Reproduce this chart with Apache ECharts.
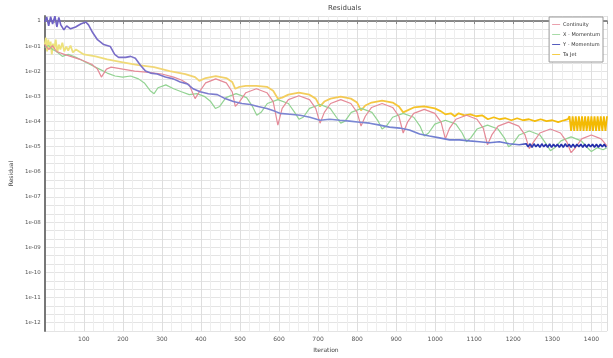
<!DOCTYPE html>
<html>
<head>
<meta charset="utf-8">
<script src="https://cdn.jsdelivr.net/npm/echarts@6/dist/echarts.min.js"></script>
<style>html,body{margin:0;padding:0;background:#fff;}#c{width:613px;height:358px;}</style>
</head>
<body>
<div id="c"></div>
<script>
const seriesNames = ['Continuity', 'X - Momentum', 'Y - Momentum', 'Ta Jet'];
const xTickLabels = [100,200,300,400,500,600,700,800,900,1000,1100,1200,1300,1400];

const continuityIter = [0,10,20,30,50,90,120,135,145,150,158,170,200,230,260,300,330,350,370,
  385,396,412,438,465,480,488,499,515,542,569,585,597,608,624,651,678,694,705,
  716,732,758,784,800,810,821,837,864,891,907,918,929,945,972,999,1015,1026,
  1037,1053,1080,1107,1123,1134,1145,1161,1188,1214,1230,1241,1252,1268,1295,1321,1337,1348,
  1359,1375,1400,1425,1440];
const continuityRes = [0.1155,0.0737,0.1055,0.0615,0.047,0.030,0.0191,0.0122,0.0059,0.005,0.0122,0.0146,0.0122,0.0102,0.0093,0.0078,0.0059,0.00453,0.00289,
  0.00082,0.00154,0.00346,0.0050,0.00346,0.00154,0.0004,0.000627,0.00141,0.00202,0.00141,0.000627,7.23e-5,0.000334,0.00075,0.00107,0.00075,0.000334,8.66e-5,
  0.000233,0.000523,0.00075,0.000523,0.000233,6.61e-5,0.000163,0.000365,0.000523,0.000365,0.000163,3.52e-5,9.48e-5,0.000213,0.000305,0.000213,9.48e-5,2.05e-5,
  5.52e-5,0.000124,0.000178,0.000124,5.52e-5,1.2e-5,2.94e-5,6.61e-5,9.48e-5,6.61e-5,2.94e-5,8.4e-6,1.57e-5,3.52e-5,5.05e-5,3.52e-5,1.57e-5,5.8e-6,
  9.1e-6,2.05e-5,2.94e-5,2.05e-5,1.09e-5];

const xMomIter = [0,10,20,30,45,60,80,100,120,140,160,180,200,220,240,255,270,280,290,310,330,350,370,390,410,425,437,
  448,464,490,517,532,543,554,570,597,624,640,651,662,678,705,731,747,758,769,785,811,838,854,864,
  875,891,918,945,961,972,983,999,1026,1053,1069,1080,1091,1107,1134,1161,1177,1188,
  1199,1215,1241,1268,1284,1295,1306,1322,1348,1374,1390,1400,1415,1430,1440];
const xMomRes = [0.0881,0.1055,0.0737,0.0615,0.0393,0.047,0.0359,0.025,0.0175,0.0122,0.0085,0.0065,0.0059,0.0065,0.005,0.00346,0.00169,0.00129,0.00221,0.00289,0.00202,0.00154,0.00118,0.00129,0.00098,0.000627,0.000334,
  0.0004,0.000898,0.00129,0.000898,0.0004,0.000178,0.000233,0.000523,0.00075,0.000523,0.000233,0.000124,0.000149,0.000334,0.000478,0.000334,0.000149,8.66e-5,0.000104,0.000233,0.000334,0.000233,0.000104,5.05e-5,
  6.61e-5,0.000149,0.000213,0.000149,6.61e-5,2.69e-5,3.52e-5,7.91e-5,0.000113,7.91e-5,3.52e-5,1.57e-5,2.25e-5,5.05e-5,7.23e-5,5.05e-5,2.25e-5,1.0e-5,
  1.31e-5,2.94e-5,4.22e-5,2.94e-5,1.31e-5,7.0e-6,9.1e-6,1.71e-5,2.46e-5,1.71e-5,9.1e-6,6.4e-6,9.1e-6,7.6e-6,9.1e-6];

const yMomIter = [0,5,10,15,20,26,31,36,41,49,56,66,79,92,105,112,123,135,151,168,179,189,207,220,232,245,258,271,288,309,329,347,365,380,398,419,442,462,483,505,526,546,569,590,602,628,654,679,705,730,756,781,807,832,858,883,909,934,960,985,1011,1037,1062,1088,1113,1139,1164,1190,1215,1233,
  1238,1243,1248,1253,1258,1263,1268,1273,1278,1283,1288,1293,1298,1303,1308,1313,1318,1323,1328,1333,1338,1343,1348,1353,1358,1363,1368,1373,1378,1383,1388,1393,1398,1403,1408,1413,1418,1423,1428,1433,1438];
const yMomRes = [0.91,1.45,0.64,1.5,0.76,1.55,0.58,1.4,0.70,0.445,0.64,0.49,0.58,0.76,0.91,0.70,0.34,0.181,0.1155,0.0964,0.047,0.0359,0.0359,0.0393,0.0328,0.0175,0.0102,0.0085,0.0078,0.0059,0.0050,0.00379,0.00316,0.00202,0.00154,0.00129,0.00118,0.00082,0.000627,0.000523,0.000478,0.0004,0.000334,0.000255,0.000213,0.000195,0.000178,0.000149,0.000113,0.000124,0.000113,0.000104,9.48e-5,8.66e-5,7.23e-5,6.04e-5,5.52e-5,4.61e-5,3.22e-5,2.69e-5,2.25e-5,1.88e-5,1.88e-5,1.71e-5,1.57e-5,1.43e-5,1.57e-5,1.31e-5,1.20e-5,1.31e-5,
  9.9e-6,1.31e-5,9.5e-6,1.31e-5,9.9e-6,1.25e-5,9.5e-6,1.31e-5,9.9e-6,1.25e-5,9.5e-6,1.31e-5,9.5e-6,1.25e-5,9.9e-6,1.25e-5,9.5e-6,1.25e-5,9.5e-6,1.31e-5,9.9e-6,1.25e-5,9.5e-6,1.25e-5,9.5e-6,1.25e-5,9.9e-6,1.25e-5,9.5e-6,1.25e-5,9.5e-6,1.25e-5,9.9e-6,1.25e-5,9.5e-6,1.25e-5,9.5e-6,1.25e-5,9.9e-6,1.25e-5,9.5e-6];

const taJetIter = [0,3,6,9,12,15,18,21,24,28,32,36,40,45,50,55,60,66,72,80,100,130,160,200,240,280,320,360,385,
  396,412,438,465,480,488,499,515,542,569,585,597,608,624,651,678,694,705,716,732,758,784,800,810,821,837,864,891,907,918,
  929,945,972,999,1015,1026,1040,1050,1060,1075,1090,1105,1120,1135,1150,1165,1180,1195,1210,1225,1240,1255,1270,1285,1300,1315,1330,1340,
  1344,1348,1352,1356,1360,1364,1368,1372,1376,1380,1384,1388,1392,1396,1400,1404,1408,1412,1416,1420,1424,1428,1432,1436,1440];
const taJetRes = [0.1155,0.217,0.0615,0.181,0.0737,0.151,0.047,0.126,0.0737,0.181,0.0562,0.1155,0.0737,0.138,0.0615,0.0964,0.0673,0.1055,0.0562,0.0737,0.047,0.0393,0.030,0.0229,0.0175,0.0146,0.0102,0.0078,0.0059,
  0.00414,0.0054,0.0065,0.0054,0.00379,0.00202,0.00242,0.00264,0.00264,0.00242,0.00169,0.00082,0.000898,0.00118,0.00141,0.00118,0.00082,0.0004,0.000627,0.00082,0.00098,0.00082,0.000573,0.000279,0.000437,0.000573,0.000686,0.000573,0.0004,0.000233,
  0.000279,0.000365,0.0004,0.000334,0.000255,0.000195,0.000213,0.000163,0.000213,0.000178,0.000195,0.000163,0.000178,0.000124,0.000149,0.000124,0.000136,0.000113,0.000136,0.000113,0.000124,0.000104,0.000124,0.000104,0.000113,9.48e-5,0.000113,0.000124,
  0.000163,4.22e-5,0.000163,4.22e-5,0.000163,4.22e-5,0.000163,4.22e-5,0.000163,4.22e-5,0.000163,4.22e-5,0.000163,4.22e-5,0.000163,4.22e-5,0.000163,4.22e-5,0.000163,4.22e-5,0.000163,4.22e-5,0.000163,4.22e-5,0.000163];

function pairs(iter, res) { return iter.map((it, i) => [it, Math.log10(res[i])]); }
function expLabel(v) {
  const n = Math.round(v);
  if (Math.abs(v - n) > 1e-6) return '';
  if (n === 0) return '1';
  const a = Math.abs(n);
  return '1e' + (n < 0 ? '-' : '+') + (a < 10 ? '0' + a : String(a));
}

const chart = echarts.init(document.getElementById('c'), null, {renderer: 'canvas'});
const G = echarts.graphic.LinearGradient;
const base = {type: 'line', symbol: 'none', showSymbol: false, animation: false, clip: true};

chart.setOption({
  animation: false,
  backgroundColor: '#ffffff',
  title: {text: 'Residuals', left: 323, top: 0, textStyle: {fontSize: 7, fontWeight: 'normal', color: '#444', fontFamily: 'DejaVu Sans'}},
  legend: {
    orient: 'vertical', right: 10, top: 17, padding: [5, 3, 5, 3], itemGap: 5,
    itemWidth: 8, itemHeight: 5, borderColor: '#9a9a9a', borderWidth: 1, backgroundColor: '#fff',
    icon: 'path://M0,2 L10,2 L10,3 L0,3 Z',
    textStyle: {fontSize: 5, color: '#333', fontFamily: 'DejaVu Sans', padding: [0,0,0,-2]},
    data: seriesNames
  },
  grid: {left: 44, right: 6, top: 16, bottom: 21, containLabel: false},
  xAxis: {
    type: 'value', min: 0, max: 1440, interval: 100,
    name: 'Iteration', nameLocation: 'middle', nameGap: 15,
    nameTextStyle: {fontSize: 6, color: '#444', fontFamily: 'DejaVu Sans'},
    axisLine: {show: true, lineStyle: {color: '#666', width: 1.5}},
    axisTick: {show: true, length: 3, lineStyle: {color: '#888'}},
    minorTick: {show: true, splitNumber: 4, length: 2, lineStyle: {color: '#aaa'}},
    axisLabel: {fontSize: 6, color: '#555', margin: 5, fontFamily: 'DejaVu Sans',
      formatter: v => (v > 0 && xTickLabels.indexOf(v) >= 0) ? String(v) : ''},
    splitLine: {show: true, lineStyle: {color: '#dedede', width: 1}},
    minorSplitLine: {show: true, lineStyle: {color: '#eeeeee', width: 1}}
  },
  yAxis: {
    type: 'value', min: -37/3, max: 0.2, interval: 1/3,
    name: 'Residual', nameLocation: 'middle', nameGap: 29,
    nameTextStyle: {fontSize: 6, color: '#444', fontFamily: 'DejaVu Sans'},
    axisLine: {show: true, lineStyle: {color: '#777', width: 2}},
    axisTick: {show: false},
    axisLabel: {fontSize: 5.5, color: '#555', margin: 4, fontFamily: 'DejaVu Sans', formatter: expLabel},
    splitLine: {show: true, lineStyle: {color: '#e4e4e4', width: 1}}
  },
  series: [
    Object.assign({}, base, {name: seriesNames[0], data: pairs(continuityIter, continuityRes), z: 3,
      itemStyle: {color: '#e58a98'}, lineStyle: {color: '#e58a98', width: 1.2}}),
    Object.assign({}, base, {name: seriesNames[1], data: pairs(xMomIter, xMomRes), z: 2,
      itemStyle: {color: '#93d393'}, lineStyle: {color: '#93d393', width: 1.2}}),
    Object.assign({}, base, {name: seriesNames[2], data: pairs(yMomIter, yMomRes), z: 4,
      itemStyle: {color: '#2a35b0'},
      lineStyle: {width: 1.6, color: new G(0, 0, 1, 0, [
        {offset: 0, color: '#6c5fc4'}, {offset: 0.12, color: '#7a6ec8'},
        {offset: 0.5, color: '#7d8ad4'}, {offset: 0.84, color: '#6a78cf'},
        {offset: 0.855, color: '#2a35b0'}, {offset: 1, color: '#1f2aa8'}])}}),
    Object.assign({}, base, {name: seriesNames[3], data: pairs(taJetIter, taJetRes), z: 1,
      itemStyle: {color: '#f3c21a'},
      lineStyle: {width: 1.8, color: new G(0, 0, 1, 0, [
        {offset: 0, color: '#ece47e'}, {offset: 0.2, color: '#f1d676'},
        {offset: 0.55, color: '#f4c850'}, {offset: 0.7, color: '#f5c11e'}, {offset: 1, color: '#f3b900'}])}})
  ]
});
</script>
</body>
</html>
